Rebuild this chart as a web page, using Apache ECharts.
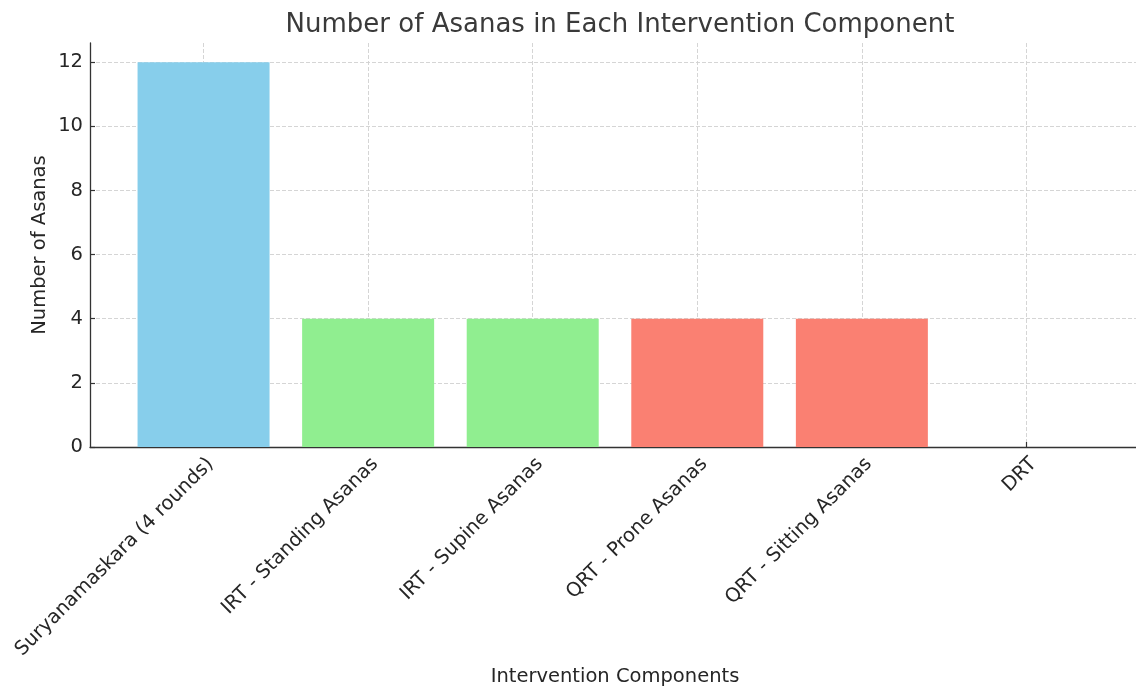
<!DOCTYPE html>
<html>
<head>
<meta charset="utf-8">
<script src="https://cdn.jsdelivr.net/npm/echarts@6/dist/echarts.min.js"></script>
<style>
  html, body { margin: 0; padding: 0; background: #ffffff; }
  #chart { width: 1136px; height: 688px; }
</style>
</head>
<body>
<div id="chart"></div>
<script>
// Intervention components and the number of asanas in each
const categories = [
  'Suryanamaskara (4 rounds)',
  'IRT - Standing Asanas',
  'IRT - Supine Asanas',
  'QRT - Prone Asanas',
  'QRT - Sitting Asanas',
  'DRT'
];
const asanaCounts = [12, 4, 4, 4, 4, 0];
const barColors = ['#87CEEB', '#90EE90', '#90EE90', '#FA8072', '#FA8072', '#87CEEB'];
const yTicks = [0, 2, 4, 6, 8, 10, 12];
const xTicks = categories.map((_, i) => i);

const FONT = 'DejaVu Sans';
const TEXT = '#262626';
const LABEL_SIZE = 19.5;

const chart = echarts.init(document.getElementById('chart'), null, { renderer: 'canvas' });

chart.setOption({
  animation: false,
  backgroundColor: '#ffffff',
  title: {
    text: 'Number of Asanas in Each Intervention Component',
    left: 615,
    top: 7,
    textAlign: 'center',
    textStyle: { fontFamily: FONT, fontSize: 26, fontWeight: 'normal', color: '#3a3a3a' }
  },
  grid: { left: 90, top: 43, width: 1050, height: 404, containLabel: false, outerBoundsMode: 'none' },
  xAxis: {
    type: 'value',
    min: -0.69,
    max: 5.69,
    name: 'Intervention Components',
    nameLocation: 'middle',
    nameGap: 220,
    nameMoveOverlap: false,
    nameTextStyle: { fontFamily: FONT, fontSize: LABEL_SIZE, color: TEXT, verticalAlign: 'top' },
    axisLine: { show: true, onZero: false, lineStyle: { color: '#333333', width: 1.3 } },
    axisTick: { show: true, inside: true, length: 5, customValues: xTicks, lineStyle: { color: '#333333', width: 1.2 } },
    axisLabel: {
      customValues: xTicks,
      rotate: 45,
      margin: 7,
      verticalAlign: 'top',
      fontFamily: FONT,
      fontSize: LABEL_SIZE,
      color: TEXT,
      formatter: v => categories[Math.round(v)]
    },
    splitLine: { show: true, lineStyle: { color: '#d0d0d0', type: [4, 2], width: 0.9 } }
  },
  yAxis: {
    type: 'value',
    min: 0,
    max: 12.6,
    name: 'Number of Asanas',
    nameLocation: 'middle',
    nameGap: 40,
    nameMoveOverlap: false,
    nameTextStyle: { fontFamily: FONT, fontSize: LABEL_SIZE, color: TEXT },
    axisLine: { show: true, onZero: false, lineStyle: { color: '#333333', width: 1.3 } },
    axisTick: { show: true, inside: true, length: 5, customValues: yTicks, lineStyle: { color: '#333333', width: 1.2 } },
    axisLabel: { customValues: yTicks, margin: 7, fontFamily: FONT, fontSize: LABEL_SIZE, color: TEXT },
    splitLine: { show: true, lineStyle: { color: '#d0d0d0', type: [4, 2], width: 0.9 } }
  },
  series: [{
    type: 'bar',
    barWidth: 132,
    z: 1,
    data: asanaCounts.map((v, i) => ({ value: [i, v], itemStyle: { color: barColors[i] } }))
  }]
});
</script>
</body>
</html>
